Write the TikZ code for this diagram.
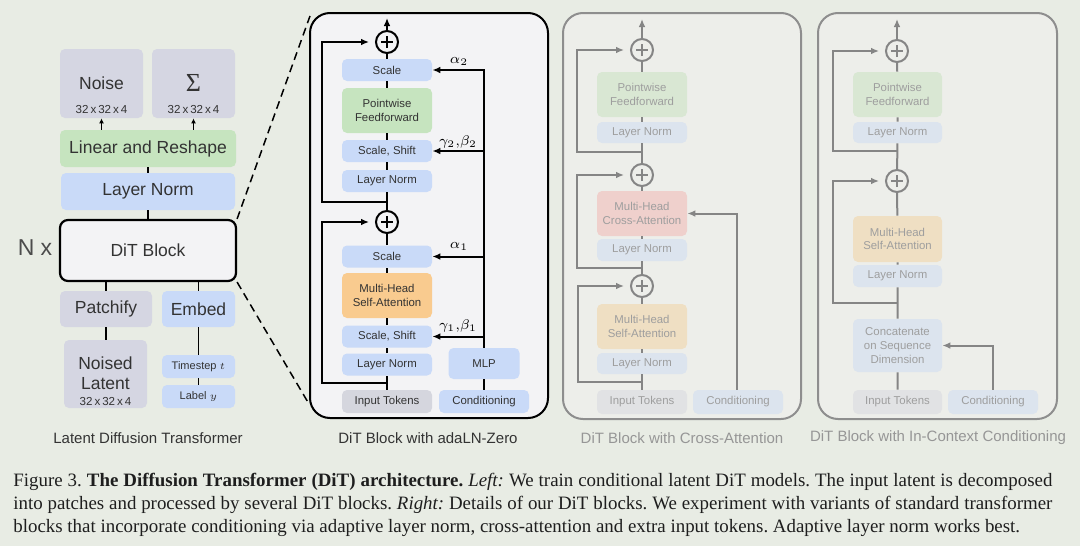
\documentclass[tikz,border=0pt]{standalone}
\usepackage{fontspec}
\setmainfont{Liberation Sans}
\newfontfamily\serifcap{Liberation Serif}
\usetikzlibrary{arrows.meta}
\definecolor{bgc}{HTML}{E8ECE4}
\definecolor{panelc}{HTML}{F3F3F5}
\definecolor{grayb}{HTML}{D5D6E2}
\definecolor{greenb}{HTML}{C6E4BF}
\definecolor{blueb}{HTML}{C9DAF8}
\definecolor{orangeb}{HTML}{F9CB8F}
\definecolor{tokb}{HTML}{D5D6DE}
\definecolor{fpanel}{HTML}{EDEEEA}
\definecolor{fgreen}{HTML}{D9E7D3}
\definecolor{fblue}{HTML}{DCE4EE}
\definecolor{forange}{HTML}{EFDFC3}
\definecolor{fred}{HTML}{EFD0CC}
\definecolor{fgray}{HTML}{E1E2E4}
\definecolor{ftext}{HTML}{9E9E9E}
\definecolor{fline}{HTML}{858585}
\definecolor{fborder}{HTML}{8E8E8E}
\definecolor{txt}{HTML}{333333}
\definecolor{captxt}{HTML}{1E1E1E}
\newcommand\fntL{\fontsize{8.75pt}{10pt}\selectfont}
\newcommand\fntS{\fontsize{5.7pt}{6.6pt}\selectfont}
\newcommand\fntC{\fontsize{7.5pt}{9pt}\selectfont}
\newcommand\fntT{\fontsize{5.8pt}{6.5pt}\selectfont}
\newcommand\fntTs{\fontsize{5.5pt}{6.5pt}\selectfont}
\newcommand\fntN{\fontsize{11.5pt}{12pt}\selectfont}
\newcommand\fntCap{\fontsize{9.45pt}{11pt}\selectfont}
\frenchspacing
\begin{document}
\begin{tikzpicture}[x=0.5pt,y=-0.5pt,
  sz/.style 2 args={minimum width=#1*0.5pt, minimum height=#2*0.5pt},
  box/.style={rectangle, rounded corners=2.5pt, inner sep=0pt, align=center, text=txt},
  lbox/.style={box, font=\fntL},
  mbox/.style={box, font=\fntS, sz={90}{22}},
  fbox/.style={box, font=\fntS, sz={90}{22}, text=ftext},
  panel/.style={rectangle, rounded corners=10pt, line width=1pt, inner sep=0pt},
  plusc/.style={circle, draw=#1, line width=1pt, minimum size=11pt, inner sep=0pt,
    path picture={\draw[#1, line width=0.7pt] ([xshift=-3pt]path picture bounding box.center) -- ([xshift=3pt]path picture bounding box.center);
      \draw[#1, line width=0.7pt] ([yshift=-3pt]path picture bounding box.center) -- ([yshift=3pt]path picture bounding box.center);}},
  lconn/.style={draw=black, line width=0.8pt},
  larr/.style={draw=black, line width=0.7pt, -{Latex[length=2.5pt,width=2.5pt]}},
  mline/.style={draw=black, line width=1pt},
  marr/.style={draw=black, line width=1pt, -{Latex[length=4pt,width=3.4pt]}},
  fln/.style={draw=fline, line width=1pt},
  farr/.style={draw=fline, line width=1pt, -{Latex[length=4pt,width=3.4pt]}},
  mlab/.style={inner sep=0pt, font=\fontsize{7.5pt}{8pt}\selectfont},
  pcap/.style={inner sep=0pt, font=\fntC}
]
\useasboundingbox (0,0) rectangle (1080,546);
\fill[bgc] (0,0) rectangle (1080,546);

% ---------------- left panel ----------------
\node[lbox, fill=grayb, sz={83}{69}] (noise) at (101.5,83.5) {};
\node[inner sep=0pt, font=\fntL, text=txt] (noiset) at (101.5,83) {Noise};
\node[inner sep=0pt, font=\fntT, text=txt] (noised1) at (101.5,110) {32\,x\,32\,x\,4};
\node[lbox, fill=grayb, sz={83}{69}] (sigma) at (193.5,83.5) {};
\node[inner sep=0pt, font=\fontsize{13pt}{14pt}\selectfont\serifcap, text=txt] (sigmat) at (193.5,83) {Σ};
\node[inner sep=0pt, font=\fntT, text=txt] (sigmad) at (193.5,110) {32\,x\,32\,x\,4};
\node[lbox, fill=greenb, sz={176}{37}] (linear) at (148,148.5) {Linear and Reshape};
\node[lbox, fill=blueb, sz={174}{37}] (ln) at (148,191.5) {Layer Norm};
\node[lbox, draw=black, line width=1.1pt, rounded corners=4pt, fill=panelc, sz={176}{61}] (dit) at (148,250.5) {DiT Block};
\node[inner sep=0pt, font=\fntN, text=black!70] (nx) at (35,248) {N x};
\node[lbox, fill=grayb, sz={92}{36}] (patch) at (106,309) {Patchify};
\node[lbox, fill=blueb, sz={73}{36}] (embed) at (198.5,309) {Embed};
\node[lbox, fill=grayb, sz={83}{68}] (noised) at (105.5,374) {};
\node[inner sep=0pt, font=\fntL, text=txt, align=center] (noisedt) at (105.5,373) {\fontsize{8.75pt}{10pt}\selectfont Noised\\Latent};
\node[inner sep=0pt, font=\fntT, text=txt] (noisedd) at (105.5,401) {32\,x\,32\,x\,4};
\node[box, fill=blueb, sz={73}{23}, font=\fntTs] (tstep) at (198.5,366.5) {Timestep $t$};
\node[box, fill=blueb, sz={73}{23}, font=\fntTs] (label) at (198.5,396.5) {Label $y$};
\node[pcap, text=txt] (lcap) at (148,438) {Latent Diffusion Transformer};

\draw[larr] (noise.south |- linear.north) -- (noise.south);
\draw[larr] (sigma.south |- linear.north) -- (sigma.south);
\draw[lconn] (linear.south) -- (ln.north);
\draw[lconn] (ln.south) -- (dit.north);
\draw[lconn] (dit.south -| patch) -- (patch.north);
\draw[lconn] (dit.south -| embed) -- (embed.north);
\draw[lconn] (patch.south) -- (patch.south |- noised.north);
\draw[lconn] (embed.south) -- (tstep.north);
\draw[lconn] (tstep.south) -- (label.north);

% dashed zoom lines
\coordinate (zt) at (310,16);
\coordinate (zb) at (309,404);
\draw[dashed, dash pattern=on 4pt off 2.5pt, line width=0.75pt] (dit.north east) -- (zt);
\draw[dashed, dash pattern=on 4pt off 2.5pt, line width=0.75pt] (dit.south east) -- (zb);

% ---------------- middle panel: adaLN-Zero ----------------
\node[panel, draw=black, fill=panelc, sz={238}{405}] (mid) at (429,215.5) {};
\node[plusc=black, fill=panelc] (p2) at (387,42) {};
\node[mbox, fill=blueb] (scl2) at (387,70) {Scale};
\node[mbox, fill=greenb, sz={90}{45}] (pff) at (387,110.5) {Pointwise\\Feedforward};
\node[mbox, fill=blueb] (ss2) at (387,151) {Scale, Shift};
\node[mbox, fill=blueb] (ln2) at (387,181) {Layer Norm};
\node[plusc=black, fill=panelc] (p1) at (387,222) {};
\node[mbox, fill=blueb] (scl1) at (387,256.5) {Scale};
\node[mbox, fill=orangeb, sz={90}{45}] (mhsa) at (387,295.5) {Multi-Head\\Self-Attention};
\node[mbox, fill=blueb] (ss1) at (387,336.5) {Scale, Shift};
\node[mbox, fill=blueb] (ln1) at (387,364.5) {Layer Norm};
\node[mbox, fill=tokb, sz={90}{23}] (tok) at (387,401.5) {Input Tokens};
\node[mbox, fill=blueb, sz={71}{31}] (mlp) at (484,363.5) {MLP};
\node[mbox, fill=blueb, sz={90}{23}] (cond) at (484,401.5) {Conditioning};
\coordinate (j2) at (387,202);
\coordinate (j1) at (387,383);
\coordinate (mout) at (387,18);
\node[pcap, text=txt] (mcap) at (428,438) {DiT Block with adaLN-Zero};

\draw[mline] (tok) -- (ln1) (ln1) -- (ss1) (ss1) -- (mhsa) (mhsa) -- (scl1) (scl1) -- (p1)
  (p1) -- (ln2) (ln2) -- (ss2) (ss2) -- (pff) (pff) -- (scl2) (scl2) -- (p2);
\draw[marr] (p2) -- (mout);
\draw[marr, shorten >=3pt] (j1) -- ++(-65,0) |- (p1.west);
\draw[marr, shorten >=3pt] (j2) -- ++(-65,0) |- (p2.west);
\draw[mline] (cond) -- (mlp);
\draw[marr] (mlp.north) |- (scl2.east);
\draw[marr] (mlp.north |- ss2.east) -- (ss2.east);
\draw[marr] (mlp.north |- scl1.east) -- (scl1.east);
\draw[marr] (mlp.north |- ss1.east) -- (ss1.east);
\node[mlab] (a2) at (459,61) {$\alpha_2$};
\node[mlab] (g2) at (458,142) {$\gamma_2,\!\beta_2$};
\node[mlab] (a1) at (459,246) {$\alpha_1$};
\node[mlab] (g1) at (458,326) {$\gamma_1,\!\beta_1$};

% ---------------- right panel A: cross-attention ----------------
\node[panel, draw=fborder, fill=fpanel, sz={238}{406}] (pa) at (682,216) {};
\node[plusc=fline, fill=fpanel] (pa3) at (642,50) {};
\node[fbox, fill=fgreen, sz={90}{45}] (pffa) at (642,94.5) {Pointwise\\Feedforward};
\node[fbox, fill=fblue, sz={90}{21}] (lna3) at (642,132.5) {Layer Norm};
\node[plusc=fline, fill=fpanel] (pa2) at (642,175) {};
\node[fbox, fill=fred, sz={90}{45}] (caa) at (642,213.5) {Multi-Head\\Cross-Attention};
\node[fbox, fill=fblue] (lna2) at (642,250) {Layer Norm};
\node[plusc=fline, fill=fpanel] (pa1) at (642,286) {};
\node[fbox, fill=forange, sz={90}{45}] (mhsaa) at (642,326.5) {Multi-Head\\Self-Attention};
\node[fbox, fill=fblue, sz={90}{21}] (lna1) at (642,363.5) {Layer Norm};
\node[fbox, fill=fgray, sz={90}{24}] (toka) at (642,402) {Input Tokens};
\node[fbox, fill=fblue, sz={90}{24}] (conda) at (738,402) {Conditioning};
\coordinate (ja3) at (642,152);
\coordinate (ja2) at (642,268);
\coordinate (ja1) at (642,382);
\coordinate (aout) at (642,19);
\node[pcap, text=ftext!95!black] (acap) at (682,438) {DiT Block with Cross-Attention};

\draw[fln] (toka) -- (lna1) (lna1) -- (mhsaa) (mhsaa) -- (pa1) (pa1) -- (lna2) (lna2) -- (caa)
  (caa) -- (pa2) (pa2) -- (lna3) (lna3) -- (pffa) (pffa) -- (pa3);
\draw[farr] (pa3) -- (aout);
\draw[farr, shorten >=3pt] (ja1) -- ++(-64,0) |- (pa1.west);
\draw[farr, shorten >=3pt] (ja2) -- ++(-65,0) |- (pa2.west);
\draw[farr, shorten >=3pt] (ja3) -- ++(-65,0) |- (pa3.west);
\draw[farr] (conda.north -| 737,0) |- (caa.east);

% ---------------- right panel B: in-context ----------------
\node[panel, draw=fborder, fill=fpanel, sz={239}{406}] (pb) at (937.5,216) {};
\node[plusc=fline, fill=fpanel] (pb2) at (897,51) {};
\node[fbox, fill=fgreen, sz={89}{45}] (pffb) at (897.5,94.5) {Pointwise\\Feedforward};
\node[fbox, fill=fblue, sz={89}{21}] (lnb2) at (897.5,132.5) {Layer Norm};
\node[plusc=fline, fill=fpanel] (pb1) at (897,181) {};
\node[fbox, fill=forange, sz={89}{46}] (mhsab) at (897.5,239) {Multi-Head\\Self-Attention};
\node[fbox, fill=fblue, sz={89}{22}] (lnb1) at (897.5,276) {Layer Norm};
\node[fbox, fill=fblue, sz={89}{53}, font=\fontsize{5.7pt}{6.8pt}\selectfont] (cat) at (897.5,345.5) {Concatenate\\on Sequence\\Dimension};
\node[fbox, fill=fgray, sz={89}{24}] (tokb) at (897.5,402) {Input Tokens};
\node[fbox, fill=fblue, sz={90}{24}] (condb) at (993,402) {Conditioning};
\coordinate (jb2) at (897,151);
\coordinate (jb1) at (897,303);
\coordinate (bout) at (897,19);
\node[pcap, text=ftext!95!black] (bcap) at (938,438) {DiT Block with In-Context Conditioning};

\draw[fln] (tokb) -- (cat) (cat) -- (lnb1) (lnb1) -- (mhsab) (mhsab) -- (pb1)
  (pb1) -- (lnb2) (lnb2) -- (pffb) (pffb) -- (pb2);
\draw[farr] (pb2) -- (bout);
\draw[farr, shorten >=3pt] (jb1) -- ++(-64,0) |- (pb1.west);
\draw[farr, shorten >=3pt] (jb2) -- ++(-64,0) |- (pb2.west);
\draw[farr] (condb.north) |- (cat.east);

% ---------------- caption ----------------
\node[anchor=base west, inner sep=0pt, font=\fntCap\serifcap, text=captxt] (cap1) at (13,486)
  {\makebox[519.5pt][s]{Figure 3. \textbf{The Diffusion Transformer (DiT) architecture.} \textit{Left:} We train conditional latent DiT models. The input latent is decomposed}};
\node[anchor=base west, inner sep=0pt, font=\fntCap\serifcap, text=captxt] (cap2) at (13,509)
  {\makebox[519.5pt][s]{into patches and processed by several DiT blocks. \textit{Right:} Details of our DiT blocks. We experiment with variants of standard transformer}};
\node[anchor=base west, inner sep=0pt, font=\fntCap\serifcap, text=captxt] (cap3) at (13,532)
  {blocks that incorporate conditioning via adaptive layer norm, cross-attention and extra input tokens. Adaptive layer norm works best.};
\end{tikzpicture}
\end{document}
